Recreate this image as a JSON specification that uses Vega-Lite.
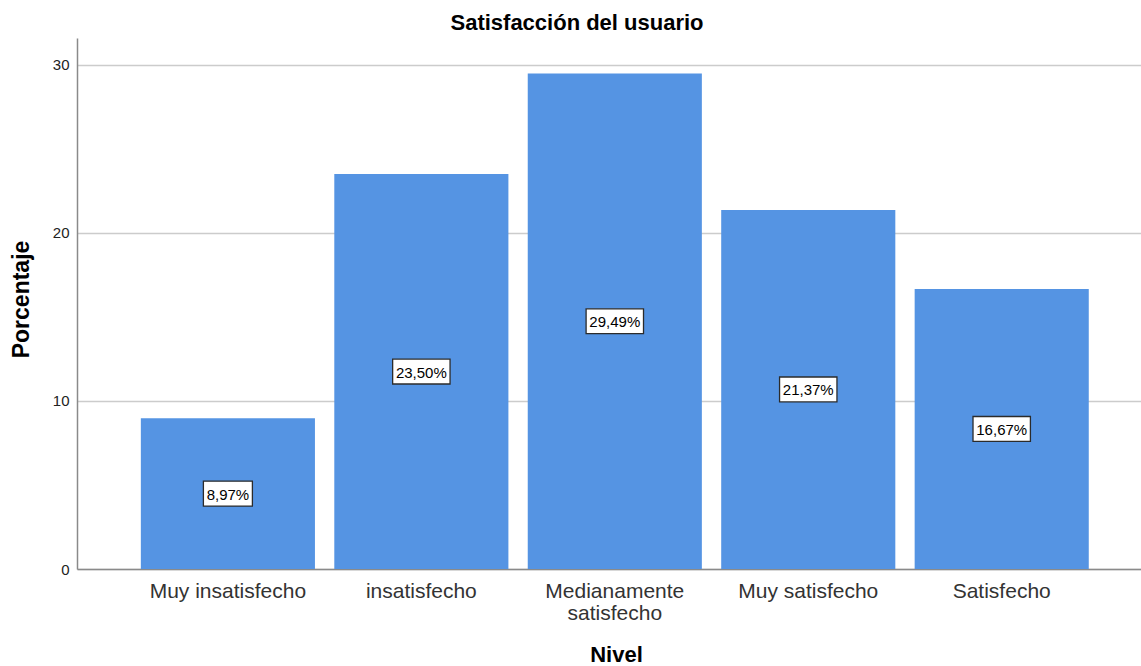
{
  "$schema": "https://vega.github.io/schema/vega-lite/v6.json",
  "autosize": "none",
  "width": 1064,
  "height": 531,
  "padding": {"left": 77, "top": 38, "right": 0, "bottom": 97},
  "background": "white",
  "config": {
    "font": "Liberation Sans",
    "view": {"stroke": null},
    "axis": {"labelFont": "Liberation Sans", "titleFont": "Liberation Sans"}
  },
  "title": {
    "text": "Satisfacción del usuario",
    "fontSize": 22,
    "fontWeight": "bold",
    "color": "#000000",
    "anchor": "middle",
    "offset": 3,
    "dx": -32
  },
  "data": {
    "values": [
      {"nivel": "Muy insatisfecho", "pct": 8.97, "label": "8,97%"},
      {"nivel": "insatisfecho", "pct": 23.50, "label": "23,50%"},
      {"nivel": "Medianamente satisfecho", "pct": 29.49, "label": "29,49%"},
      {"nivel": "Muy satisfecho", "pct": 21.37, "label": "21,37%"},
      {"nivel": "Satisfecho", "pct": 16.67, "label": "16,67%"}
    ]
  },
  "transform": [
    {"calculate": "datum.pct / 2", "as": "mid"},
    {"calculate": "datum.pct / 2 - 0.74", "as": "boxLo"},
    {"calculate": "datum.pct / 2 + 0.74", "as": "boxHi"},
    {"calculate": "length(datum.label) * 8.4 + 7", "as": "boxW"}
  ],
  "encoding": {
    "x": {
      "field": "nivel",
      "type": "nominal",
      "sort": null,
      "scale": {"paddingInner": 0.1, "paddingOuter": 0.3, "align": 0.55},
      "axis": {
        "title": "Nivel",
        "titleFontSize": 22,
        "titleFontWeight": "bold",
        "titleColor": "#000000",
        "titleX": 539,
        "titleY": 85,
        "titleBaseline": "middle",
        "labelAngle": 0,
        "labelFontSize": 21,
        "labelColor": "#333333",
        "labelPadding": 11,
        "labelLineHeight": 22,
        "labelExpr": "datum.label == 'Medianamente satisfecho' ? ['Medianamente', 'satisfecho'] : datum.label",
        "ticks": false,
        "domainColor": "#8a8a8a",
        "domainWidth": 1.5
      }
    }
  },
  "layer": [
    {
      "mark": {"type": "bar", "color": "#5594e3"},
      "encoding": {
        "y": {
          "field": "pct",
          "type": "quantitative",
          "scale": {"domain": [0, 31.6], "nice": false},
          "axis": {
            "title": "Porcentaje",
            "titleFontSize": 23,
            "titleFontWeight": "bold",
            "titleColor": "#000000",
            "titleX": -56,
            "titleY": 261,
            "titleAngle": -90,
            "titleBaseline": "middle",
            "titleAlign": "center",
            "values": [0, 10, 20, 30],
            "labelFontSize": 15,
            "labelColor": "#222222",
            "labelPadding": 8,
            "ticks": false,
            "grid": true,
            "gridColor": "#cccccc",
            "gridWidth": 1.5,
            "domainColor": "#8a8a8a",
            "domainWidth": 1.5
          }
        }
      }
    },
    {
      "mark": {"type": "bar", "fill": "white", "stroke": "#2b2b2b", "strokeWidth": 1.3},
      "encoding": {
        "y": {"field": "boxLo", "type": "quantitative"},
        "y2": {"field": "boxHi"},
        "size": {"field": "boxW", "type": "quantitative", "scale": null}
      }
    },
    {
      "mark": {"type": "text", "fontSize": 15, "color": "#000000", "baseline": "middle", "align": "center", "dy": 1},
      "encoding": {
        "y": {"field": "mid", "type": "quantitative"},
        "text": {"field": "label"}
      }
    }
  ]
}
